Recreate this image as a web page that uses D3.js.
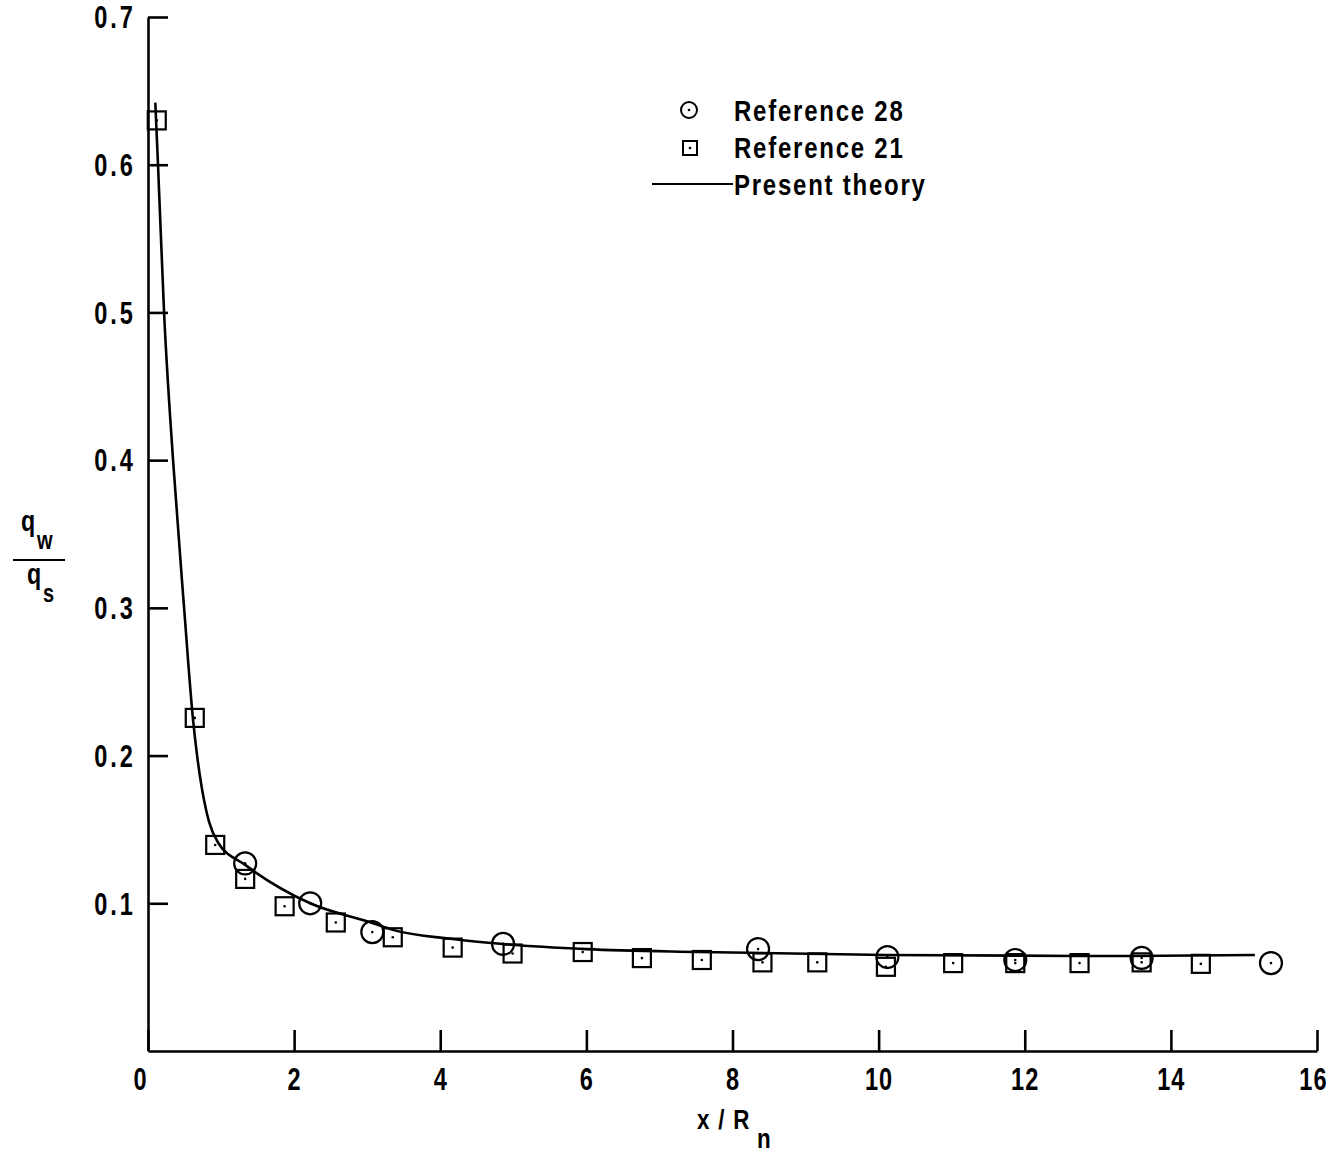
<!DOCTYPE html>
<html>
<head>
<meta charset="utf-8" />
<title>Heat transfer distribution</title>
<style>
html, body {
    margin: 0px;
    padding: 0px;
    background: #fff;
}
svg text {
    font-family: "Liberation Sans", Arial, sans-serif;
    font-weight: bold;
    fill: #000;
}
</style>
</head>
<body>
<div id="graph"></div>
<script src="https://cdnjs.cloudflare.com/ajax/libs/d3/7.8.5/d3.min.js"></script>
<script>
// Reference 28 (circles)
var ref28X = [1.33, 2.22, 3.07, 4.86, 8.35, 10.12, 11.87, 13.6, 15.37]
var ref28Y = [0.127, 0.100, 0.0805, 0.0725, 0.069, 0.0636, 0.0616, 0.063, 0.0595]

// Reference 21 (squares)
var ref21X = [0.12, 0.64, 0.92, 1.33, 1.87, 2.57, 3.35, 4.17, 4.99, 5.95, 6.76, 7.58, 8.41, 9.16, 10.1, 11.02, 11.87, 12.75, 13.6, 14.41]
var ref21Y = [0.630, 0.2255, 0.1395, 0.1165, 0.098, 0.087, 0.077, 0.070, 0.066, 0.067, 0.0629, 0.0616, 0.060, 0.060, 0.057, 0.0595, 0.0595, 0.0595, 0.060, 0.059]

// Present theory
var theoryX = [0.10, 0.137, 0.22, 0.343, 0.494, 0.617, 0.672, 0.796, 0.837, 0.96, 1.33, 2.22, 3.07, 3.35, 4.17, 4.86, 6.0, 7.55, 10.1, 13.45, 15.15]
var theoryY = [0.642, 0.600, 0.500, 0.400, 0.300, 0.224, 0.200, 0.163, 0.155, 0.141, 0.126, 0.100, 0.0867, 0.082, 0.0758, 0.0724, 0.069, 0.067, 0.065, 0.0643, 0.065]

var xTicks = [0, 2, 4, 6, 8, 10, 12, 14, 16]
var yTicks = [0.1, 0.2, 0.3, 0.4, 0.5, 0.6, 0.7]
var legendText = ["Reference 28", "Reference 21", "Present theory"]

var W = 1333, H = 1153
var svg = d3.select("#graph").append("svg").attr("width", W).attr("height", H)

var x = d3.scaleLinear().domain([0, 16]).range([148, 1317])
var y = d3.scaleLinear().domain([0, 0.7]).range([1051, 17])

// narrow the glyphs horizontally, keep x position
function squeeze(sel, k) {
    sel.each(function() {
        var t = d3.select(this)
        var x0 = +t.attr("x") || 0
        t.attr("x", x0 / k).attr("transform", "scale(" + k + ",1)")
    })
}

// axes: ticks point inward
var xAxis = svg.append("g").attr("transform", "translate(0," + y(0) + ")")
    .call(d3.axisBottom(x).tickValues(xTicks).tickSize(-21).tickSizeOuter(0).tickPadding(12).tickFormat(d3.format("d")))
var yAxis = svg.append("g").attr("transform", "translate(" + x(0) + ",0)")
    .call(d3.axisLeft(y).tickValues(yTicks).tickSize(-20).tickSizeOuter(0).tickPadding(12).tickFormat(d3.format(".1f")))

svg.selectAll(".domain, .tick line").attr("stroke", "#000").attr("stroke-width", 2.6)
svg.selectAll(".tick text").style("font-size", "31px").style("letter-spacing", "1.5px")
yAxis.selectAll(".tick text").style("letter-spacing", "4px")
xAxis.selectAll(".tick text").attr("dy", "0.88em")
xAxis.selectAll(".tick text").filter(function(d) { return d === 0 }).attr("x", -8)
xAxis.selectAll(".tick text").filter(function(d) { return d === 16 }).attr("x", -4)
yAxis.selectAll(".tick text").attr("dy", "0.35em")
squeeze(svg.selectAll(".tick text"), 0.76)

// theory line
var line = d3.line().x(function(d) { return x(d[0]) }).y(function(d) { return y(d[1]) }).curve(d3.curveMonotoneX)
svg.append("path")
    .datum(d3.zip(theoryX, theoryY))
    .attr("d", line)
    .attr("fill", "none").attr("stroke", "#000").attr("stroke-width", 2.6)

// markers
var sq = 18
svg.append("g").selectAll("rect").data(d3.zip(ref21X, ref21Y)).enter().append("rect")
    .attr("x", function(d) { return x(d[0]) - sq / 2 })
    .attr("y", function(d) { return y(d[1]) - sq / 2 })
    .attr("width", sq).attr("height", sq)
    .attr("fill", "none").attr("stroke", "#000").attr("stroke-width", 2.2)

svg.append("g").selectAll("circle").data(d3.zip(ref28X, ref28Y)).enter().append("circle")
    .attr("cx", function(d) { return x(d[0]) })
    .attr("cy", function(d) { return y(d[1]) })
    .attr("r", 11)
    .attr("fill", "none").attr("stroke", "#000").attr("stroke-width", 2.2)

// center dots
svg.append("g").selectAll("circle").data(d3.zip(ref21X, ref21Y).concat(d3.zip(ref28X, ref28Y))).enter().append("circle")
    .attr("cx", function(d) { return x(d[0]) })
    .attr("cy", function(d) { return y(d[1]) })
    .attr("r", 1.3).attr("fill", "#000")

// legend
var lg = svg.append("g")
lg.append("circle").attr("cx", 689).attr("cy", 110).attr("r", 8)
    .attr("fill", "none").attr("stroke", "#000").attr("stroke-width", 2)
lg.append("circle").attr("cx", 689).attr("cy", 110).attr("r", 1.3).attr("fill", "#000")
lg.append("rect").attr("x", 683).attr("y", 141).attr("width", 14).attr("height", 14)
    .attr("fill", "none").attr("stroke", "#000").attr("stroke-width", 2)
lg.append("circle").attr("cx", 690).attr("cy", 148).attr("r", 1.3).attr("fill", "#000")
lg.append("line").attr("x1", 652).attr("x2", 733).attr("y1", 184).attr("y2", 184)
    .attr("stroke", "#000").attr("stroke-width", 2)
var lt = lg.selectAll("text").data(legendText).enter().append("text")
    .attr("x", 734)
    .attr("y", function(d, i) { return 121 + i * 37 })
    .style("font-size", "30px").style("letter-spacing", "2.2px")
    .text(function(d) { return d })
squeeze(lt, 0.8)

// y label: q_w / q_s
var yl = svg.append("g")
var ylt = []
ylt.push(yl.append("text").attr("x", 21).attr("y", 531).style("font-size", "29px").text("q"))
ylt.push(yl.append("text").attr("x", 37).attr("y", 549).style("font-size", "25px").text("w"))
yl.append("line").attr("x1", 13).attr("x2", 65).attr("y1", 560).attr("y2", 560)
    .attr("stroke", "#000").attr("stroke-width", 2.2)
ylt.push(yl.append("text").attr("x", 27).attr("y", 584).style("font-size", "29px").text("q"))
ylt.push(yl.append("text").attr("x", 43).attr("y", 602).style("font-size", "25px").text("s"))
ylt.forEach(function(t) { squeeze(t, 0.8) })

// x label: x / R_n
var xl = svg.append("g")
var xlt = []
xlt.push(xl.append("text").attr("x", 697).attr("y", 1129).style("font-size", "28px").style("letter-spacing", "11px").text("x/R"))
xlt.push(xl.append("text").attr("x", 757).attr("y", 1148).style("font-size", "28px").text("n"))
xlt.forEach(function(t) { squeeze(t, 0.8) })
</script>
</body>
</html>
